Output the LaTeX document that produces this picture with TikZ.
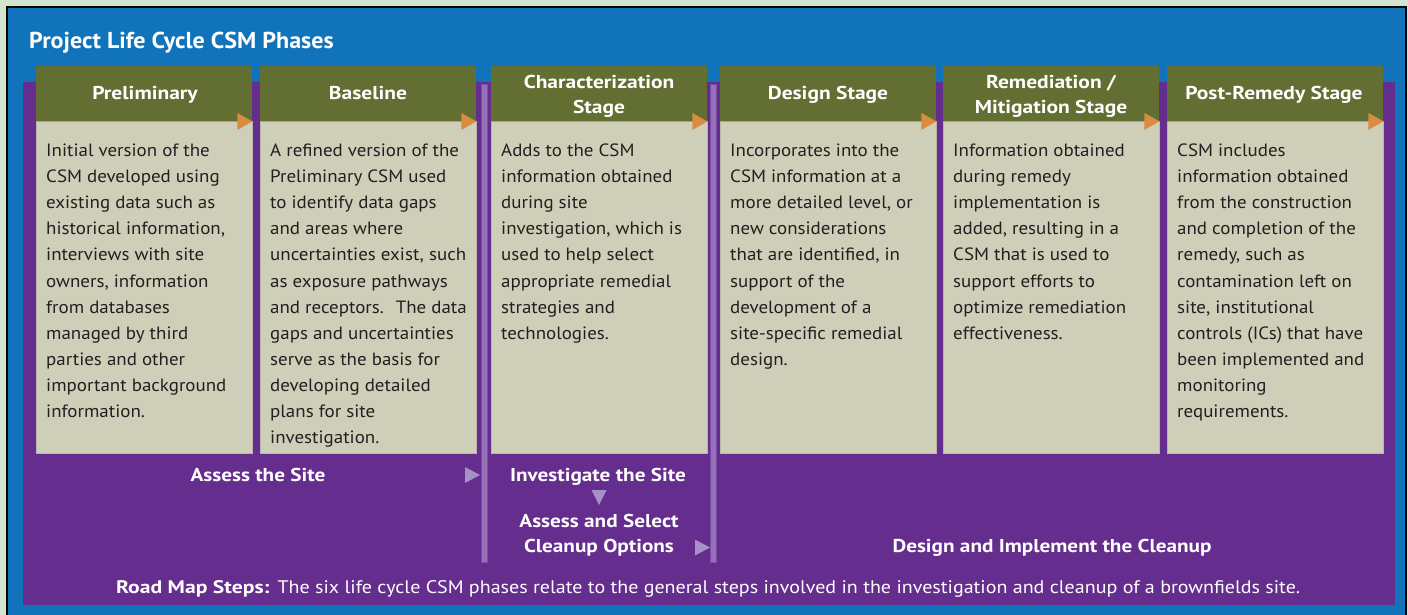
\documentclass[tikz,border=0pt]{standalone}
\usepackage{fontspec}
\setmainfont{PT Sans}
\newfontfamily\fBody[FakeStretch=1.065]{PT Sans}
\newfontfamily\fHdr[FakeStretch=1.155]{PT Sans}
\newfontfamily\fStep[FakeStretch=1.14]{PT Sans}
\newfontfamily\fTitle[FakeStretch=1.045]{PT Sans}
\newfontfamily\fFootB[FakeStretch=1.19]{PT Sans}
\newfontfamily\fFoot[FakeStretch=1.10]{PT Sans}
\definecolor{bggreen}{HTML}{D3E5CF}
\definecolor{frameblue}{HTML}{1174BB}
\definecolor{deeppurple}{HTML}{652D8E}
\definecolor{olive}{HTML}{636E32}
\definecolor{beige}{HTML}{CFCFB9}
\definecolor{beigeedge}{HTML}{B9B6A6}
\definecolor{sepline}{HTML}{A2A57F}
\definecolor{tiporange}{HTML}{D98B3E}
\definecolor{barpurple}{HTML}{9571B9}
\definecolor{baredge}{HTML}{7A4EA3}
\definecolor{tippurple}{HTML}{A690C8}
\definecolor{bodyink}{HTML}{231F20}
\tikzset{
  hdrbox/.style={anchor=north west, fill=olive, minimum width=216pt, minimum height=55pt, inner sep=0pt, draw=none},
  bodybox/.style={anchor=north west, fill=beige, draw=beigeedge, line width=0.8pt, minimum width=216pt, minimum height=332pt, inner sep=0pt},
  hdrtext/.style={anchor=base, text=white, inner sep=0pt, font=\fHdr\bfseries\fontsize{18.6}{22}\selectfont},
  bodyline/.style={anchor=base west, text=bodyink, inner sep=0pt, font=\fBody\fontsize{17.8}{22}\selectfont},
  steptext/.style={anchor=base, text=white, inner sep=0pt, font=\fStep\bfseries\fontsize{18.6}{22}\selectfont},
  sidebar/.style={fill=barpurple, draw=baredge, line width=1pt},
}
\newcommand\phasebox[2]{%
  \node[hdrbox] (h#1) at (#2,66) {};
  \node[bodybox] (b#1) at (#2,121) {};
  \draw[sepline, line width=1pt] (h#1.south west) -- (h#1.south east);
  \fill[tiporange] ([xshift=-15pt,yshift=8.5pt]h#1.south east) -- (h#1.south east) -- ([xshift=-15pt,yshift=-8.5pt]h#1.south east) -- cycle;
}
\newcommand\bodylines[3]{%
  \foreach \ln [count=\i from 0] in {#3} {
    \node[bodyline] (t#1-\i) at (#2+10, 156.5+26.1*\i) {\ln};
  }%
}
\begin{document}
\begin{tikzpicture}[x=1pt,y=-1pt]
\useasboundingbox (0,0) rectangle (1408,615);
\fill[bggreen] (0,0) rectangle (1408,615);
\fill[black] (6,6) rectangle (1407,615);
\fill[frameblue] (8,8) rectangle (1405,615);
\fill[deeppurple] (23,82) rectangle (1395,605);

\node[anchor=base west, text=white, inner sep=0pt, font=\fTitle\bfseries\fontsize{23}{26}\selectfont] (title) at (29,48.3) {Project Life Cycle CSM Phases};

% separators
\draw[sidebar] (481,85) rectangle (487,562);
\draw[sidebar] (710,85) rectangle (716,562);

% phase boxes
\phasebox{1}{36}
\phasebox{2}{260}
\phasebox{3}{491}
\phasebox{4}{720}
\phasebox{5}{943}
\phasebox{6}{1167}

% header titles
\node[hdrtext] (p1) at (145,100) {Preliminary};
\node[hdrtext] (p2) at (368,100) {Baseline};
\node[hdrtext] (p3a) at (599,88.3) {Characterization};
\node[hdrtext] (p3b) at (599,113.3) {Stage};
\node[hdrtext] (p4) at (828,100) {Design Stage};
\node[hdrtext] (p5a) at (1051,88.3) {Remediation /};
\node[hdrtext] (p5b) at (1051,113.3) {Mitigation Stage};
\node[hdrtext] (p6) at (1274,100) {Post-Remedy Stage};

% body texts
\bodylines{1}{36}{Initial version of the, CSM developed using, existing data such as, {historical information,}, interviews with site, {owners, information}, from databases, managed by third, parties and other, important background, information.}
\bodylines{2}{260}{A refined version of the, Preliminary CSM used, to identify data gaps, and areas where, {uncertainties exist, such}, as exposure pathways, and receptors.~ The data, gaps and uncertainties, serve as the basis for, developing detailed, plans for site, investigation.}
\bodylines{3}{491}{Adds to the CSM, information obtained, during site, {investigation, which is}, used to help select, appropriate remedial, strategies and, technologies.}
\bodylines{4}{720}{Incorporates into the, CSM information at a, {more detailed level, or}, new considerations, {that are identified, in}, support of the, development of a, site-specific remedial, design.}
\bodylines{5}{943}{Information obtained, during remedy, implementation is, {added, resulting in a}, CSM that is used to, support efforts to, optimize remediation, effectiveness.}
\bodylines{6}{1167}{CSM includes, information obtained, from the construction, and completion of the, {remedy, such as}, contamination left on, {site, institutional}, controls (ICs) that have, been implemented and, monitoring, requirements.}

% road map steps
\node[steptext] (s1) at (258,481) {Assess the Site};
\node[steptext] (s2) at (598,481) {Investigate the Site};
\node[steptext] (s3a) at (599,527) {Assess and Select};
\node[steptext] (s3b) at (599,552) {Cleanup Options};
\node[steptext] (s4) at (1052,552) {Design and Implement the Cleanup};

\coordinate (tipA) at (480,475);
\coordinate (tipB) at (599,505);
\coordinate (tipC) at (710,547.5);
\fill[tippurple] ([xshift=-15pt,yshift=8pt]tipA) -- (tipA) -- ([xshift=-15pt,yshift=-8pt]tipA) -- cycle;
\fill[tippurple] ([xshift=-7.5pt,yshift=15pt]tipB) -- (tipB) -- ([xshift=7.5pt,yshift=15pt]tipB) -- cycle;
\fill[tippurple] ([xshift=-15pt,yshift=8pt]tipC) -- (tipC) -- ([xshift=-15pt,yshift=-8pt]tipC) -- cycle;

\node[anchor=base west, text=white, inner sep=0pt, font=\fontsize{18.2}{22}\selectfont] (foot) at (116,593.3) {{\fFootB\bfseries Road Map Steps:}\hspace{8pt}{\fFoot The six life cycle CSM phases relate to the general steps involved in the investigation and cleanup of a brownfields site.}};
\end{tikzpicture}
\end{document}
